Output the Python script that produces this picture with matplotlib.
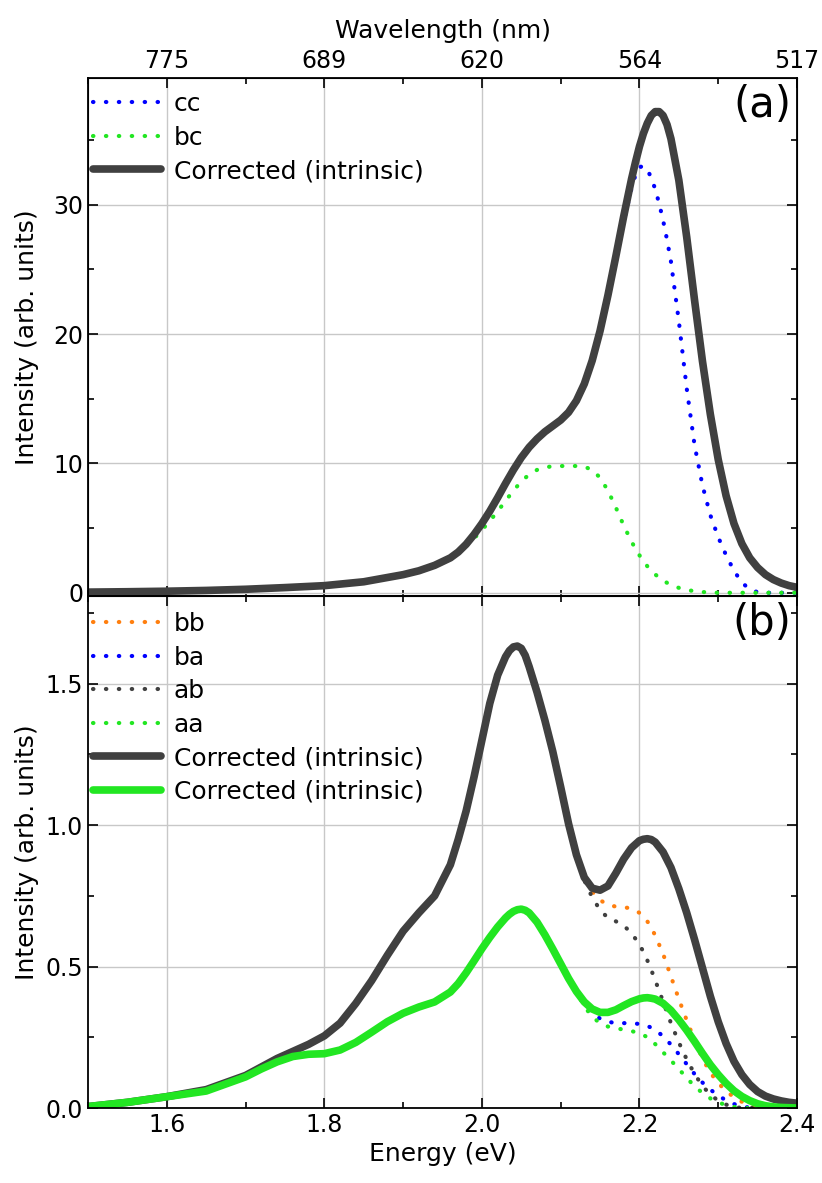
import matplotlib
matplotlib.use("Agg")
import matplotlib.pyplot as plt
from matplotlib.ticker import MultipleLocator, FormatStrFormatter

plt.rcParams['font.family'] = ['DejaVu Sans']

# ---------------- data: panel (a) ----------------
energy_a = [1.50, 1.55, 1.60, 1.65, 1.70, 1.75, 1.80, 1.85, 1.90, 1.92,
            1.94, 1.96, 1.97, 1.98, 1.99, 2.00, 2.01, 2.02, 2.03, 2.04,
            2.05, 2.06, 2.07, 2.08, 2.09, 2.10, 2.11, 2.12, 2.13, 2.14,
            2.15, 2.16, 2.17, 2.18, 2.19, 2.195, 2.20, 2.205, 2.21, 2.215,
            2.22, 2.225, 2.23, 2.235, 2.24, 2.25, 2.26, 2.27, 2.28, 2.29,
            2.30, 2.31, 2.32, 2.33, 2.34, 2.35, 2.36, 2.37, 2.38, 2.39, 2.40]
corr_a = [0.05, 0.08, 0.12, 0.18, 0.27, 0.40, 0.55, 0.85, 1.40, 1.70,
          2.12, 2.70, 3.15, 3.75, 4.50, 5.35, 6.30, 7.35, 8.45, 9.50,
          10.45, 11.25, 11.90, 12.45, 12.90, 13.35, 13.95, 14.85, 16.15, 17.95,
          20.25, 23.00, 26.00, 29.10, 32.00, 33.30, 34.50, 35.50, 36.30, 36.90,
          37.20, 37.20, 36.90, 36.20, 35.10, 31.90, 27.50, 22.60, 17.90, 13.80,
          10.30, 7.50, 5.35, 3.80, 2.70, 1.95, 1.40, 1.02, 0.75, 0.55, 0.42]
cc = [0.05, 0.08, 0.12, 0.18, 0.27, 0.40, 0.55, 0.85, 1.40, 1.70,
      2.12, 2.70, 3.15, 3.75, 4.50, 5.35, 6.30, 7.35, 8.45, 9.50,
      10.45, 11.25, 11.90, 12.45, 12.90, 13.35, 13.95, 14.85, 16.15, 17.95,
      20.20, 22.90, 25.80, 28.70, 31.30, 32.30, 32.90, 33.00, 32.70, 32.10,
      31.20, 30.10, 28.80, 27.30, 25.60, 21.00, 15.80, 11.40, 8.30, 6.00,
      4.30, 2.90, 1.70, 0.80, 0.25, 0.05, 0.0, 0.0, 0.0, 0.0, 0.0]
bc = [0.05, 0.08, 0.12, 0.18, 0.27, 0.40, 0.55, 0.85, 1.35, 1.65,
      2.05, 2.60, 3.05, 3.60, 4.20, 4.85, 5.55, 6.30, 7.10, 7.90,
      8.60, 9.15, 9.50, 9.70, 9.78, 9.80, 9.80, 9.80, 9.75, 9.50,
      8.90, 7.90, 6.60, 5.20, 3.95, 3.40, 2.90, 2.45, 2.05, 1.72,
      1.42, 1.17, 0.95, 0.77, 0.62, 0.38, 0.22, 0.12, 0.06, 0.02,
      0.0, 0.0, 0.0, 0.0, 0.0, 0.0, 0.0, 0.0, 0.0, 0.0, 0.0]

# ---------------- data: panel (b) ----------------
energy_b = [1.50, 1.55, 1.60, 1.65, 1.70, 1.72, 1.74, 1.76, 1.78, 1.80,
            1.82, 1.84, 1.86, 1.88, 1.90, 1.92, 1.94, 1.96, 1.97, 1.98,
            1.99, 2.00, 2.01, 2.02, 2.03, 2.035, 2.04, 2.045, 2.05, 2.055,
            2.06, 2.07, 2.08, 2.09, 2.10, 2.11, 2.12, 2.13, 2.14, 2.15,
            2.16, 2.17, 2.18, 2.19, 2.20, 2.205, 2.21, 2.215, 2.22, 2.23,
            2.24, 2.25, 2.26, 2.27, 2.28, 2.29, 2.30, 2.31, 2.32, 2.33,
            2.34, 2.35, 2.36, 2.37, 2.38, 2.39, 2.40]
corr_b_gray = [0.005, 0.02, 0.04, 0.065, 0.115, 0.145, 0.175, 0.20, 0.225, 0.255,
               0.30, 0.37, 0.45, 0.54, 0.625, 0.69, 0.75, 0.86, 0.95, 1.05,
               1.17, 1.30, 1.43, 1.53, 1.595, 1.617, 1.63, 1.633, 1.625, 1.60,
               1.56, 1.47, 1.37, 1.26, 1.135, 1.005, 0.895, 0.815, 0.777, 0.77,
               0.785, 0.83, 0.88, 0.92, 0.945, 0.95, 0.952, 0.949, 0.94, 0.905,
               0.85, 0.775, 0.69, 0.595, 0.495, 0.395, 0.305, 0.228, 0.165, 0.118,
               0.083, 0.058, 0.042, 0.032, 0.025, 0.02, 0.017]
corr_b_green = [0.005, 0.02, 0.04, 0.06, 0.11, 0.138, 0.163, 0.182, 0.19, 0.192,
                0.205, 0.232, 0.268, 0.305, 0.335, 0.357, 0.375, 0.41, 0.44, 0.478,
                0.52, 0.563, 0.603, 0.64, 0.672, 0.685, 0.695, 0.701, 0.703, 0.699,
                0.69, 0.657, 0.612, 0.562, 0.51, 0.458, 0.412, 0.375, 0.35, 0.338,
                0.338, 0.347, 0.362, 0.376, 0.386, 0.389, 0.39, 0.388, 0.385, 0.37,
                0.345, 0.312, 0.275, 0.235, 0.193, 0.153, 0.118, 0.087, 0.061, 0.041,
                0.026, 0.015, 0.008, 0.004, 0.002, 0.001, 0.0]
bb = [0.005, 0.02, 0.04, 0.065, 0.115, 0.145, 0.175, 0.20, 0.225, 0.255,
      0.30, 0.37, 0.45, 0.54, 0.625, 0.69, 0.75, 0.86, 0.95, 1.05,
      1.17, 1.30, 1.43, 1.53, 1.595, 1.617, 1.63, 1.633, 1.625, 1.60,
      1.56, 1.47, 1.37, 1.26, 1.135, 1.005, 0.895, 0.815, 0.765, 0.735,
      0.718, 0.712, 0.71, 0.705, 0.69, 0.677, 0.66, 0.637, 0.61, 0.545,
      0.465, 0.385, 0.31, 0.24, 0.175, 0.125, 0.088, 0.06, 0.038, 0.022,
      0.011, 0.005, 0.002, 0.0, 0.0, 0.0, 0.0]
ba = [0.005, 0.02, 0.04, 0.06, 0.11, 0.138, 0.163, 0.182, 0.19, 0.192,
      0.205, 0.232, 0.268, 0.305, 0.335, 0.357, 0.375, 0.41, 0.44, 0.478,
      0.52, 0.563, 0.603, 0.64, 0.672, 0.685, 0.695, 0.701, 0.703, 0.699,
      0.69, 0.657, 0.612, 0.562, 0.51, 0.458, 0.412, 0.365, 0.335, 0.316,
      0.305, 0.30, 0.30, 0.30, 0.297, 0.294, 0.29, 0.284, 0.276, 0.254,
      0.224, 0.19, 0.155, 0.12, 0.09, 0.065, 0.044, 0.027, 0.014, 0.006,
      0.001, 0.0, 0.0, 0.0, 0.0, 0.0, 0.0]
ab = [0.005, 0.02, 0.04, 0.065, 0.115, 0.145, 0.175, 0.20, 0.225, 0.255,
      0.30, 0.37, 0.45, 0.54, 0.625, 0.69, 0.75, 0.86, 0.95, 1.05,
      1.17, 1.30, 1.43, 1.53, 1.595, 1.617, 1.63, 1.633, 1.625, 1.60,
      1.56, 1.47, 1.37, 1.26, 1.135, 1.005, 0.895, 0.805, 0.745, 0.70,
      0.672, 0.66, 0.645, 0.618, 0.578, 0.552, 0.522, 0.488, 0.452, 0.376,
      0.30, 0.232, 0.172, 0.12, 0.078, 0.047, 0.026, 0.012, 0.004, 0.0,
      0.0, 0.0, 0.0, 0.0, 0.0, 0.0, 0.0]
aa = [0.005, 0.02, 0.04, 0.06, 0.11, 0.138, 0.163, 0.182, 0.19, 0.192,
      0.205, 0.232, 0.268, 0.305, 0.335, 0.357, 0.375, 0.41, 0.44, 0.478,
      0.52, 0.563, 0.603, 0.64, 0.672, 0.685, 0.695, 0.701, 0.703, 0.699,
      0.69, 0.657, 0.612, 0.562, 0.51, 0.458, 0.412, 0.36, 0.322, 0.30,
      0.288, 0.282, 0.277, 0.272, 0.264, 0.258, 0.25, 0.239, 0.226, 0.197,
      0.168, 0.138, 0.106, 0.077, 0.053, 0.034, 0.02, 0.01, 0.004, 0.0,
      0.0, 0.0, 0.0, 0.0, 0.0, 0.0, 0.0]

energy_ticks = [1.6, 1.8, 2.0, 2.2, 2.4]
wavelength_labels = ['775', '689', '620', '564', '517']

# ---------------- styles ----------------
GRAY = '#404040'
GREEN = '#22e622'
BLUE = '#0000ff'
ORANGE = '#ff7f0e'
DOT = dict(lw=3.0, linestyle=(0, (0.1, 3.0)), dash_capstyle='round')
SOLID = dict(lw=5.5, solid_capstyle='round', solid_joinstyle='round')
FS = 17

fig = plt.figure(figsize=(8.22, 11.83), dpi=100)
L, R = 88 / 822, 797 / 822
ya_top, yab, yb_bot = 1 - 78 / 1183, 1 - 596 / 1183, 1 - 1108 / 1183
ax1 = fig.add_axes([L, yab, R - L, ya_top - yab])
ax2 = fig.add_axes([L, yb_bot, R - L, yab - yb_bot], sharex=ax1)

ax1.plot(energy_a, cc, color=BLUE, label='cc', **DOT)
ax1.plot(energy_a, bc, color=GREEN, label='bc', **DOT)
ax1.plot(energy_a, corr_a, color=GRAY, label='Corrected (intrinsic)', **SOLID)

ax2.plot(energy_b, bb, color=ORANGE, label='bb', **DOT)
ax2.plot(energy_b, ba, color=BLUE, label='ba', **DOT)
ax2.plot(energy_b, ab, color=GRAY, label='ab', **DOT)
ax2.plot(energy_b, aa, color=GREEN, label='aa', **DOT)
ax2.plot(energy_b, corr_b_gray, color=GRAY, label='Corrected (intrinsic)', **SOLID)
ax2.plot(energy_b, corr_b_green, color=GREEN, label='Corrected (intrinsic)', **SOLID)

ax1.set_xlim(1.5, 2.4)
ax1.set_ylim(-0.25, 39.8)
ax2.set_ylim(0, 1.81)

for ax, ytop in ((ax1, 0.987), (ax2, 0.983)):
    ax.grid(True, color='#c8c8c8', lw=1.0)
    ax.set_axisbelow(True)
    ax.xaxis.set_major_locator(MultipleLocator(0.2))
    ax.xaxis.set_minor_locator(MultipleLocator(0.1))
    ax.tick_params(which='both', direction='in', top=True, right=True,
                   labelsize=FS, width=1.2)
    ax.tick_params(which='major', length=7)
    ax.tick_params(which='minor', length=4)
    for s in ax.spines.values():
        s.set_linewidth(1.3)
    ax.set_ylabel('Intensity (arb. units)', fontsize=FS + 1)
    ax.yaxis.set_label_coords(-0.069, 0.5)
    ax.legend(loc='upper left', bbox_to_anchor=(-0.0035, ytop), frameon=False,
              fontsize=FS + 1, handlelength=2.7, handletextpad=0.53,
              labelspacing=0.38, borderaxespad=0.0, borderpad=0.3)

ax1.yaxis.set_major_locator(MultipleLocator(10))
ax1.yaxis.set_minor_locator(MultipleLocator(5))
ax2.yaxis.set_major_locator(MultipleLocator(0.5))
ax2.yaxis.set_minor_locator(MultipleLocator(0.25))
ax2.yaxis.set_major_formatter(FormatStrFormatter('%.1f'))
ax1.tick_params(labelbottom=False)
ax2.set_xticks(energy_ticks)
ax2.set_xlabel('Energy (eV)', fontsize=FS + 1)

axt = ax1.twiny()
axt.set_xlim(1.5, 2.4)
axt.set_xticks(energy_ticks)
axt.set_xticklabels(wavelength_labels)
axt.xaxis.set_minor_locator(MultipleLocator(0.1))
axt.tick_params(which='both', direction='in', labelsize=FS, width=1.2)
axt.tick_params(which='major', length=7)
axt.tick_params(which='minor', length=4)
axt.set_xlabel('Wavelength (nm)', fontsize=FS + 1, labelpad=8)

ax1.text(0.992, 0.988, '(a)', transform=ax1.transAxes, ha='right', va='top', fontsize=30)
ax2.text(0.992, 0.988, '(b)', transform=ax2.transAxes, ha='right', va='top', fontsize=30)

fig.savefig('out.png', dpi=100)
